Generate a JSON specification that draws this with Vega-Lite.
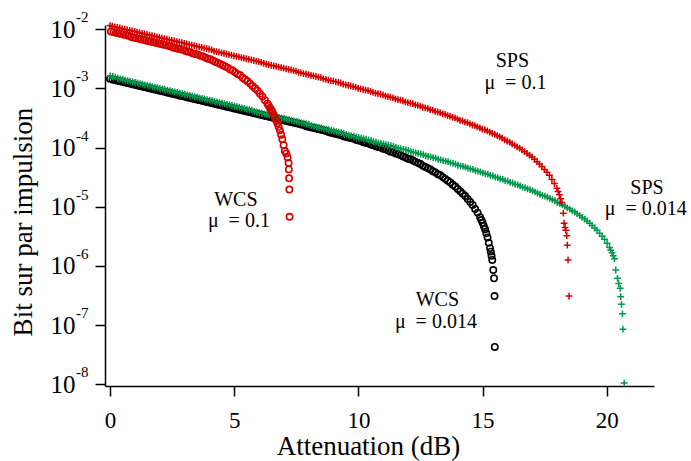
{
"$schema":"https://vega.github.io/schema/vega-lite/v6.json",
"width":549,"height":361,
"autosize":{"type":"none"},
"padding":{"left":105,"top":25,"right":37,"bottom":75},
"background":"white",
"config":{"view":{"stroke":null},"font":"Liberation Serif"},
"datasets":{
"wcs0014":[{"x":0,"y":1.445e-3},{"x":0.1,"y":1.413e-3},{"x":0.2,"y":1.38e-3},{"x":0.3,"y":1.349e-3},{"x":0.4,"y":1.318e-3},{"x":0.5,"y":1.288e-3},{"x":0.6,"y":1.259e-3},{"x":0.7,"y":1.23e-3},{"x":0.8,"y":1.202e-3},{"x":0.9,"y":1.175e-3},{"x":1.0,"y":1.148e-3},{"x":1.1,"y":1.122e-3},{"x":1.2,"y":1.096e-3},{"x":1.3,"y":1.072e-3},{"x":1.4,"y":1.047e-3},{"x":1.5,"y":1.023e-3},{"x":1.6,"y":1.0e-3},{"x":1.7,"y":9.772e-4},{"x":1.8,"y":9.55e-4},{"x":1.9,"y":9.333e-4},{"x":2.0,"y":9.12e-4},{"x":2.1,"y":8.913e-4},{"x":2.2,"y":8.71e-4},{"x":2.3,"y":8.511e-4},{"x":2.4,"y":8.318e-4},{"x":2.5,"y":8.128e-4},{"x":2.6,"y":7.943e-4},{"x":2.7,"y":7.762e-4},{"x":2.8,"y":7.586e-4},{"x":2.9,"y":7.413e-4},{"x":3.0,"y":7.244e-4},{"x":3.1,"y":7.079e-4},{"x":3.2,"y":6.918e-4},{"x":3.3,"y":6.761e-4},{"x":3.4,"y":6.607e-4},{"x":3.5,"y":6.457e-4},{"x":3.6,"y":6.31e-4},{"x":3.7,"y":6.166e-4},{"x":3.8,"y":6.026e-4},{"x":3.9,"y":5.888e-4},{"x":4.0,"y":5.754e-4},{"x":4.1,"y":5.623e-4},{"x":4.2,"y":5.495e-4},{"x":4.3,"y":5.37e-4},{"x":4.4,"y":5.248e-4},{"x":4.5,"y":5.129e-4},{"x":4.6,"y":5.012e-4},{"x":4.7,"y":4.898e-4},{"x":4.8,"y":4.786e-4},{"x":4.9,"y":4.677e-4},{"x":5.0,"y":4.571e-4},{"x":5.1,"y":4.467e-4},{"x":5.2,"y":4.365e-4},{"x":5.3,"y":4.266e-4},{"x":5.4,"y":4.169e-4},{"x":5.5,"y":4.074e-4},{"x":5.6,"y":3.981e-4},{"x":5.7,"y":3.89e-4},{"x":5.8,"y":3.802e-4},{"x":5.9,"y":3.715e-4},{"x":6.0,"y":3.631e-4},{"x":6.1,"y":3.548e-4},{"x":6.2,"y":3.467e-4},{"x":6.3,"y":3.388e-4},{"x":6.4,"y":3.311e-4},{"x":6.5,"y":3.236e-4},{"x":6.6,"y":3.162e-4},{"x":6.7,"y":3.09e-4},{"x":6.8,"y":3.02e-4},{"x":6.9,"y":2.951e-4},{"x":7.0,"y":2.884e-4},{"x":7.1,"y":2.818e-4},{"x":7.2,"y":2.754e-4},{"x":7.3,"y":2.692e-4},{"x":7.4,"y":2.63e-4},{"x":7.5,"y":2.57e-4},{"x":7.6,"y":2.512e-4},{"x":7.7,"y":2.455e-4},{"x":7.8,"y":2.399e-4},{"x":7.9,"y":2.291e-4},{"x":8.0,"y":2.239e-4},{"x":8.1,"y":2.188e-4},{"x":8.2,"y":2.138e-4},{"x":8.3,"y":2.089e-4},{"x":8.4,"y":2.042e-4},{"x":8.5,"y":1.995e-4},{"x":8.6,"y":1.95e-4},{"x":8.7,"y":1.905e-4},{"x":8.8,"y":1.82e-4},{"x":8.9,"y":1.778e-4},{"x":9.0,"y":1.738e-4},{"x":9.1,"y":1.698e-4},{"x":9.2,"y":1.66e-4},{"x":9.3,"y":1.622e-4},{"x":9.4,"y":1.549e-4},{"x":9.5,"y":1.514e-4},{"x":9.6,"y":1.479e-4},{"x":9.7,"y":1.445e-4},{"x":9.8,"y":1.413e-4},{"x":9.9,"y":1.349e-4},{"x":10.0,"y":1.318e-4},{"x":10.1,"y":1.288e-4},{"x":10.2,"y":1.23e-4},{"x":10.3,"y":1.202e-4},{"x":10.4,"y":1.175e-4},{"x":10.5,"y":1.122e-4},{"x":10.6,"y":1.096e-4},{"x":10.7,"y":1.047e-4},{"x":10.8,"y":1.023e-4},{"x":10.9,"y":1.0e-4},{"x":11.0,"y":9.55e-5},{"x":11.1,"y":9.333e-5},{"x":11.2,"y":8.913e-5},{"x":11.3,"y":8.511e-5},{"x":11.4,"y":8.318e-5},{"x":11.5,"y":7.943e-5},{"x":11.6,"y":7.762e-5},{"x":11.7,"y":7.413e-5},{"x":11.8,"y":7.079e-5},{"x":11.9,"y":6.761e-5},{"x":12.0,"y":6.457e-5},{"x":12.1,"y":6.31e-5},{"x":12.2,"y":6.026e-5},{"x":12.3,"y":5.754e-5},{"x":12.4,"y":5.495e-5},{"x":12.5,"y":5.248e-5},{"x":12.6,"y":4.898e-5},{"x":12.7,"y":4.677e-5},{"x":12.8,"y":4.467e-5},{"x":12.9,"y":4.266e-5},{"x":13.0,"y":3.981e-5},{"x":13.1,"y":3.802e-5},{"x":13.2,"y":3.548e-5},{"x":13.3,"y":3.388e-5},{"x":13.4,"y":3.162e-5},{"x":13.5,"y":2.951e-5},{"x":13.6,"y":2.754e-5},{"x":13.7,"y":2.57e-5},{"x":13.8,"y":2.344e-5},{"x":13.9,"y":2.188e-5},{"x":14.0,"y":1.995e-5},{"x":14.1,"y":1.82e-5},{"x":14.2,"y":1.66e-5},{"x":14.3,"y":1.514e-5},{"x":14.4,"y":1.349e-5},{"x":14.5,"y":1.202e-5},{"x":14.6,"y":1.072e-5},{"x":14.7,"y":9.12e-6},{"x":14.8,"y":7.943e-6},{"x":14.9,"y":6.607e-6},{"x":14.95,"y":5.957e-6},{"x":15.0,"y":5.37e-6},{"x":15.05,"y":4.732e-6},{"x":15.1,"y":4.169e-6},{"x":15.15,"y":3.548e-6},{"x":15.2,"y":3.02e-6},{"x":15.25,"y":2.455e-6},{"x":15.3,"y":1.995e-6},{"x":15.33,"y":1.738e-6},{"x":15.36,"y":1.479e-6},{"x":15.39,"y":1.259e-6},{"x":15.43,"y":8.511e-7},{"x":15.46,"y":6.166e-7},{"x":15.48,"y":3.09e-7},{"x":15.49,"y":4.266e-8}],
"sps0014":[{"x":0.01,"y":1.622e-3},{"x":0.11,"y":1.585e-3},{"x":0.21,"y":1.549e-3},{"x":0.31,"y":1.479e-3},{"x":0.41,"y":1.445e-3},{"x":0.51,"y":1.413e-3},{"x":0.61,"y":1.38e-3},{"x":0.71,"y":1.349e-3},{"x":0.81,"y":1.318e-3},{"x":0.91,"y":1.288e-3},{"x":1.01,"y":1.259e-3},{"x":1.11,"y":1.23e-3},{"x":1.21,"y":1.202e-3},{"x":1.31,"y":1.175e-3},{"x":1.41,"y":1.148e-3},{"x":1.51,"y":1.122e-3},{"x":1.61,"y":1.096e-3},{"x":1.71,"y":1.072e-3},{"x":1.81,"y":1.047e-3},{"x":1.91,"y":1.023e-3},{"x":2.01,"y":1.0e-3},{"x":2.11,"y":9.772e-4},{"x":2.21,"y":9.55e-4},{"x":2.31,"y":9.333e-4},{"x":2.41,"y":9.12e-4},{"x":2.51,"y":8.913e-4},{"x":2.61,"y":8.71e-4},{"x":2.71,"y":8.511e-4},{"x":2.81,"y":8.318e-4},{"x":2.91,"y":8.128e-4},{"x":3.01,"y":7.943e-4},{"x":3.11,"y":7.762e-4},{"x":3.21,"y":7.586e-4},{"x":3.31,"y":7.413e-4},{"x":3.41,"y":7.244e-4},{"x":3.51,"y":7.079e-4},{"x":3.61,"y":6.918e-4},{"x":3.71,"y":6.761e-4},{"x":3.81,"y":6.607e-4},{"x":3.91,"y":6.457e-4},{"x":4.01,"y":6.31e-4},{"x":4.11,"y":6.166e-4},{"x":4.21,"y":6.026e-4},{"x":4.31,"y":5.888e-4},{"x":4.41,"y":5.754e-4},{"x":4.51,"y":5.623e-4},{"x":4.61,"y":5.495e-4},{"x":4.71,"y":5.37e-4},{"x":4.81,"y":5.248e-4},{"x":4.91,"y":5.129e-4},{"x":5.01,"y":5.012e-4},{"x":5.11,"y":4.898e-4},{"x":5.21,"y":4.786e-4},{"x":5.31,"y":4.677e-4},{"x":5.41,"y":4.571e-4},{"x":5.51,"y":4.467e-4},{"x":5.61,"y":4.365e-4},{"x":5.71,"y":4.266e-4},{"x":5.81,"y":4.074e-4},{"x":5.91,"y":3.981e-4},{"x":6.01,"y":3.89e-4},{"x":6.11,"y":3.802e-4},{"x":6.21,"y":3.715e-4},{"x":6.31,"y":3.631e-4},{"x":6.41,"y":3.548e-4},{"x":6.51,"y":3.467e-4},{"x":6.61,"y":3.388e-4},{"x":6.71,"y":3.311e-4},{"x":6.81,"y":3.236e-4},{"x":6.91,"y":3.162e-4},{"x":7.01,"y":3.09e-4},{"x":7.11,"y":3.02e-4},{"x":7.21,"y":2.951e-4},{"x":7.31,"y":2.884e-4},{"x":7.41,"y":2.818e-4},{"x":7.51,"y":2.754e-4},{"x":7.61,"y":2.692e-4},{"x":7.71,"y":2.63e-4},{"x":7.81,"y":2.57e-4},{"x":7.91,"y":2.512e-4},{"x":8.01,"y":2.455e-4},{"x":8.11,"y":2.344e-4},{"x":8.21,"y":2.291e-4},{"x":8.31,"y":2.239e-4},{"x":8.41,"y":2.188e-4},{"x":8.51,"y":2.138e-4},{"x":8.61,"y":2.089e-4},{"x":8.71,"y":2.042e-4},{"x":8.81,"y":1.995e-4},{"x":8.91,"y":1.95e-4},{"x":9.01,"y":1.905e-4},{"x":9.11,"y":1.862e-4},{"x":9.21,"y":1.82e-4},{"x":9.31,"y":1.778e-4},{"x":9.41,"y":1.738e-4},{"x":9.51,"y":1.66e-4},{"x":9.61,"y":1.622e-4},{"x":9.71,"y":1.585e-4},{"x":9.81,"y":1.549e-4},{"x":9.91,"y":1.514e-4},{"x":10.01,"y":1.479e-4},{"x":10.11,"y":1.445e-4},{"x":10.21,"y":1.413e-4},{"x":10.31,"y":1.38e-4},{"x":10.41,"y":1.349e-4},{"x":10.51,"y":1.318e-4},{"x":10.61,"y":1.259e-4},{"x":10.71,"y":1.23e-4},{"x":10.81,"y":1.202e-4},{"x":10.91,"y":1.175e-4},{"x":11.01,"y":1.148e-4},{"x":11.11,"y":1.122e-4},{"x":11.21,"y":1.096e-4},{"x":11.31,"y":1.072e-4},{"x":11.41,"y":1.047e-4},{"x":11.51,"y":1.0e-4},{"x":11.61,"y":9.772e-5},{"x":11.71,"y":9.55e-5},{"x":11.81,"y":9.333e-5},{"x":11.91,"y":9.12e-5},{"x":12.01,"y":8.913e-5},{"x":12.11,"y":8.511e-5},{"x":12.21,"y":8.318e-5},{"x":12.31,"y":8.128e-5},{"x":12.41,"y":7.943e-5},{"x":12.51,"y":7.762e-5},{"x":12.61,"y":7.586e-5},{"x":12.71,"y":7.244e-5},{"x":12.81,"y":7.079e-5},{"x":12.91,"y":6.918e-5},{"x":13.01,"y":6.761e-5},{"x":13.11,"y":6.607e-5},{"x":13.21,"y":6.31e-5},{"x":13.31,"y":6.166e-5},{"x":13.41,"y":6.026e-5},{"x":13.51,"y":5.888e-5},{"x":13.61,"y":5.754e-5},{"x":13.71,"y":5.495e-5},{"x":13.81,"y":5.37e-5},{"x":13.91,"y":5.248e-5},{"x":14.01,"y":5.012e-5},{"x":14.11,"y":4.898e-5},{"x":14.21,"y":4.786e-5},{"x":14.31,"y":4.677e-5},{"x":14.41,"y":4.467e-5},{"x":14.51,"y":4.365e-5},{"x":14.61,"y":4.266e-5},{"x":14.71,"y":4.074e-5},{"x":14.81,"y":3.981e-5},{"x":14.91,"y":3.89e-5},{"x":15.01,"y":3.715e-5},{"x":15.11,"y":3.631e-5},{"x":15.21,"y":3.548e-5},{"x":15.31,"y":3.388e-5},{"x":15.41,"y":3.311e-5},{"x":15.51,"y":3.162e-5},{"x":15.61,"y":3.09e-5},{"x":15.71,"y":2.951e-5},{"x":15.81,"y":2.884e-5},{"x":15.91,"y":2.754e-5},{"x":16.01,"y":2.692e-5},{"x":16.11,"y":2.57e-5},{"x":16.21,"y":2.512e-5},{"x":16.31,"y":2.399e-5},{"x":16.41,"y":2.344e-5},{"x":16.51,"y":2.239e-5},{"x":16.61,"y":2.138e-5},{"x":16.71,"y":2.089e-5},{"x":16.81,"y":1.995e-5},{"x":16.91,"y":1.95e-5},{"x":17.01,"y":1.862e-5},{"x":17.11,"y":1.778e-5},{"x":17.21,"y":1.698e-5},{"x":17.31,"y":1.622e-5},{"x":17.41,"y":1.549e-5},{"x":17.51,"y":1.514e-5},{"x":17.61,"y":1.445e-5},{"x":17.71,"y":1.38e-5},{"x":17.81,"y":1.318e-5},{"x":17.91,"y":1.259e-5},{"x":18.01,"y":1.175e-5},{"x":18.11,"y":1.122e-5},{"x":18.21,"y":1.072e-5},{"x":18.31,"y":1.023e-5},{"x":18.41,"y":9.55e-6},{"x":18.51,"y":9.12e-6},{"x":18.61,"y":8.511e-6},{"x":18.71,"y":8.128e-6},{"x":18.81,"y":7.586e-6},{"x":18.91,"y":7.079e-6},{"x":19.01,"y":6.607e-6},{"x":19.11,"y":6.166e-6},{"x":19.21,"y":5.754e-6},{"x":19.31,"y":5.248e-6},{"x":19.41,"y":4.786e-6},{"x":19.51,"y":4.365e-6},{"x":19.61,"y":3.981e-6},{"x":19.71,"y":3.548e-6},{"x":19.81,"y":3.162e-6},{"x":19.91,"y":2.818e-6},{"x":20.01,"y":2.399e-6},{"x":20.11,"y":2.042e-6},{"x":20.16,"y":1.841e-6},{"x":20.21,"y":1.66e-6},{"x":20.26,"y":1.479e-6},{"x":20.31,"y":1.318e-6},{"x":20.36,"y":8.511e-7},{"x":20.43,"y":6.166e-7},{"x":20.48,"y":5.012e-7},{"x":20.54,"y":4.169e-7},{"x":20.56,"y":3.02e-7},{"x":20.59,"y":2.239e-7},{"x":20.63,"y":1.549e-7},{"x":20.65,"y":8.511e-8},{"x":20.7,"y":1.047e-8}],
"sps01":[{"x":0,"y":1.148e-2},{"x":0.09,"y":1.122e-2},{"x":0.19,"y":1.096e-2},{"x":0.29,"y":1.072e-2},{"x":0.39,"y":1.047e-2},{"x":0.49,"y":1.023e-2},{"x":0.59,"y":1.0e-2},{"x":0.69,"y":9.772e-3},{"x":0.79,"y":9.55e-3},{"x":0.89,"y":9.333e-3},{"x":0.99,"y":9.12e-3},{"x":1.09,"y":8.913e-3},{"x":1.19,"y":8.71e-3},{"x":1.29,"y":8.511e-3},{"x":1.39,"y":8.318e-3},{"x":1.49,"y":8.128e-3},{"x":1.59,"y":7.943e-3},{"x":1.69,"y":7.762e-3},{"x":1.79,"y":7.586e-3},{"x":1.89,"y":7.413e-3},{"x":1.99,"y":7.244e-3},{"x":2.09,"y":7.079e-3},{"x":2.19,"y":6.918e-3},{"x":2.29,"y":6.761e-3},{"x":2.39,"y":6.607e-3},{"x":2.49,"y":6.457e-3},{"x":2.59,"y":6.31e-3},{"x":2.69,"y":6.166e-3},{"x":2.79,"y":6.026e-3},{"x":2.89,"y":5.888e-3},{"x":2.99,"y":5.754e-3},{"x":3.09,"y":5.623e-3},{"x":3.19,"y":5.495e-3},{"x":3.29,"y":5.37e-3},{"x":3.39,"y":5.248e-3},{"x":3.49,"y":5.129e-3},{"x":3.59,"y":5.012e-3},{"x":3.69,"y":4.898e-3},{"x":3.79,"y":4.786e-3},{"x":3.89,"y":4.677e-3},{"x":3.99,"y":4.571e-3},{"x":4.09,"y":4.467e-3},{"x":4.19,"y":4.266e-3},{"x":4.29,"y":4.169e-3},{"x":4.39,"y":4.074e-3},{"x":4.49,"y":3.981e-3},{"x":4.59,"y":3.89e-3},{"x":4.69,"y":3.802e-3},{"x":4.79,"y":3.715e-3},{"x":4.89,"y":3.631e-3},{"x":4.99,"y":3.548e-3},{"x":5.09,"y":3.467e-3},{"x":5.19,"y":3.388e-3},{"x":5.29,"y":3.311e-3},{"x":5.39,"y":3.236e-3},{"x":5.49,"y":3.162e-3},{"x":5.59,"y":3.09e-3},{"x":5.69,"y":3.02e-3},{"x":5.79,"y":2.951e-3},{"x":5.89,"y":2.884e-3},{"x":5.99,"y":2.818e-3},{"x":6.09,"y":2.754e-3},{"x":6.19,"y":2.63e-3},{"x":6.29,"y":2.57e-3},{"x":6.39,"y":2.512e-3},{"x":6.49,"y":2.455e-3},{"x":6.59,"y":2.399e-3},{"x":6.69,"y":2.344e-3},{"x":6.79,"y":2.291e-3},{"x":6.89,"y":2.239e-3},{"x":6.99,"y":2.188e-3},{"x":7.09,"y":2.138e-3},{"x":7.19,"y":2.089e-3},{"x":7.29,"y":2.042e-3},{"x":7.39,"y":1.995e-3},{"x":7.49,"y":1.95e-3},{"x":7.59,"y":1.862e-3},{"x":7.69,"y":1.82e-3},{"x":7.79,"y":1.778e-3},{"x":7.89,"y":1.738e-3},{"x":7.99,"y":1.698e-3},{"x":8.09,"y":1.66e-3},{"x":8.19,"y":1.622e-3},{"x":8.29,"y":1.585e-3},{"x":8.39,"y":1.549e-3},{"x":8.49,"y":1.514e-3},{"x":8.59,"y":1.445e-3},{"x":8.69,"y":1.413e-3},{"x":8.79,"y":1.38e-3},{"x":8.89,"y":1.349e-3},{"x":8.99,"y":1.318e-3},{"x":9.09,"y":1.288e-3},{"x":9.19,"y":1.259e-3},{"x":9.29,"y":1.23e-3},{"x":9.39,"y":1.175e-3},{"x":9.49,"y":1.148e-3},{"x":9.59,"y":1.122e-3},{"x":9.69,"y":1.096e-3},{"x":9.79,"y":1.072e-3},{"x":9.89,"y":1.047e-3},{"x":9.99,"y":1.0e-3},{"x":10.09,"y":9.772e-4},{"x":10.19,"y":9.55e-4},{"x":10.29,"y":9.333e-4},{"x":10.39,"y":9.12e-4},{"x":10.49,"y":8.913e-4},{"x":10.59,"y":8.511e-4},{"x":10.69,"y":8.318e-4},{"x":10.79,"y":8.128e-4},{"x":10.89,"y":7.943e-4},{"x":10.99,"y":7.762e-4},{"x":11.09,"y":7.413e-4},{"x":11.19,"y":7.244e-4},{"x":11.29,"y":7.079e-4},{"x":11.39,"y":6.918e-4},{"x":11.49,"y":6.607e-4},{"x":11.59,"y":6.457e-4},{"x":11.69,"y":6.31e-4},{"x":11.79,"y":6.166e-4},{"x":11.89,"y":5.888e-4},{"x":11.99,"y":5.754e-4},{"x":12.09,"y":5.623e-4},{"x":12.19,"y":5.495e-4},{"x":12.29,"y":5.248e-4},{"x":12.39,"y":5.129e-4},{"x":12.49,"y":5.012e-4},{"x":12.59,"y":4.786e-4},{"x":12.69,"y":4.677e-4},{"x":12.79,"y":4.571e-4},{"x":12.89,"y":4.365e-4},{"x":12.99,"y":4.266e-4},{"x":13.09,"y":4.074e-4},{"x":13.19,"y":3.981e-4},{"x":13.29,"y":3.89e-4},{"x":13.39,"y":3.715e-4},{"x":13.49,"y":3.631e-4},{"x":13.59,"y":3.467e-4},{"x":13.69,"y":3.388e-4},{"x":13.79,"y":3.236e-4},{"x":13.89,"y":3.162e-4},{"x":13.99,"y":3.02e-4},{"x":14.09,"y":2.884e-4},{"x":14.19,"y":2.818e-4},{"x":14.29,"y":2.692e-4},{"x":14.39,"y":2.63e-4},{"x":14.49,"y":2.512e-4},{"x":14.59,"y":2.399e-4},{"x":14.69,"y":2.344e-4},{"x":14.79,"y":2.239e-4},{"x":14.89,"y":2.138e-4},{"x":14.99,"y":2.042e-4},{"x":15.09,"y":1.995e-4},{"x":15.19,"y":1.905e-4},{"x":15.29,"y":1.82e-4},{"x":15.39,"y":1.738e-4},{"x":15.49,"y":1.66e-4},{"x":15.59,"y":1.585e-4},{"x":15.69,"y":1.514e-4},{"x":15.79,"y":1.445e-4},{"x":15.89,"y":1.349e-4},{"x":15.99,"y":1.288e-4},{"x":16.09,"y":1.23e-4},{"x":16.19,"y":1.148e-4},{"x":16.29,"y":1.096e-4},{"x":16.39,"y":1.023e-4},{"x":16.49,"y":9.772e-5},{"x":16.59,"y":9.12e-5},{"x":16.69,"y":8.511e-5},{"x":16.79,"y":7.943e-5},{"x":16.89,"y":7.413e-5},{"x":16.99,"y":6.918e-5},{"x":17.09,"y":6.31e-5},{"x":17.19,"y":5.754e-5},{"x":17.29,"y":5.248e-5},{"x":17.39,"y":4.786e-5},{"x":17.49,"y":4.266e-5},{"x":17.59,"y":3.802e-5},{"x":17.69,"y":3.388e-5},{"x":17.79,"y":2.884e-5},{"x":17.89,"y":2.455e-5},{"x":17.99,"y":2.042e-5},{"x":18.04,"y":1.799e-5},{"x":18.09,"y":1.585e-5},{"x":18.14,"y":1.365e-5},{"x":18.19,"y":1.175e-5},{"x":18.25,"y":7.762e-6},{"x":18.28,"y":5.248e-6},{"x":18.32,"y":4.467e-6},{"x":18.35,"y":3.981e-6},{"x":18.39,"y":3.236e-6},{"x":18.41,"y":2.239e-6},{"x":18.44,"y":1.259e-6},{"x":18.48,"y":3.09e-7}],
"wcs01":[{"x":0.04,"y":9.12e-3},{"x":0.14,"y":8.913e-3},{"x":0.24,"y":8.71e-3},{"x":0.34,"y":8.511e-3},{"x":0.44,"y":8.318e-3},{"x":0.54,"y":8.128e-3},{"x":0.64,"y":7.943e-3},{"x":0.74,"y":7.762e-3},{"x":0.84,"y":7.413e-3},{"x":0.94,"y":7.244e-3},{"x":1.04,"y":7.079e-3},{"x":1.14,"y":6.918e-3},{"x":1.24,"y":6.761e-3},{"x":1.34,"y":6.607e-3},{"x":1.44,"y":6.457e-3},{"x":1.54,"y":6.31e-3},{"x":1.64,"y":6.166e-3},{"x":1.74,"y":6.026e-3},{"x":1.84,"y":5.888e-3},{"x":1.94,"y":5.754e-3},{"x":2.04,"y":5.623e-3},{"x":2.14,"y":5.495e-3},{"x":2.24,"y":5.37e-3},{"x":2.34,"y":5.248e-3},{"x":2.44,"y":5.129e-3},{"x":2.54,"y":4.898e-3},{"x":2.64,"y":4.786e-3},{"x":2.74,"y":4.677e-3},{"x":2.84,"y":4.571e-3},{"x":2.94,"y":4.467e-3},{"x":3.04,"y":4.266e-3},{"x":3.14,"y":4.169e-3},{"x":3.24,"y":4.074e-3},{"x":3.34,"y":3.89e-3},{"x":3.44,"y":3.802e-3},{"x":3.54,"y":3.715e-3},{"x":3.64,"y":3.548e-3},{"x":3.74,"y":3.467e-3},{"x":3.84,"y":3.311e-3},{"x":3.94,"y":3.162e-3},{"x":4.04,"y":3.09e-3},{"x":4.14,"y":2.951e-3},{"x":4.24,"y":2.818e-3},{"x":4.34,"y":2.692e-3},{"x":4.44,"y":2.57e-3},{"x":4.54,"y":2.455e-3},{"x":4.64,"y":2.344e-3},{"x":4.74,"y":2.239e-3},{"x":4.84,"y":2.089e-3},{"x":4.94,"y":1.995e-3},{"x":5.04,"y":1.862e-3},{"x":5.14,"y":1.738e-3},{"x":5.24,"y":1.66e-3},{"x":5.34,"y":1.514e-3},{"x":5.44,"y":1.413e-3},{"x":5.54,"y":1.318e-3},{"x":5.64,"y":1.202e-3},{"x":5.74,"y":1.096e-3},{"x":5.84,"y":1.0e-3},{"x":5.94,"y":9.12e-4},{"x":6.04,"y":8.128e-4},{"x":6.14,"y":7.244e-4},{"x":6.24,"y":6.31e-4},{"x":6.34,"y":5.495e-4},{"x":6.39,"y":5.07e-4},{"x":6.44,"y":4.677e-4},{"x":6.49,"y":4.315e-4},{"x":6.54,"y":3.981e-4},{"x":6.59,"y":3.589e-4},{"x":6.64,"y":3.236e-4},{"x":6.69,"y":2.884e-4},{"x":6.74,"y":2.57e-4},{"x":6.79,"y":2.239e-4},{"x":6.84,"y":1.95e-4},{"x":6.89,"y":1.641e-4},{"x":6.94,"y":1.38e-4},{"x":6.99,"y":1.096e-4},{"x":7.04,"y":8.71e-5},{"x":7.1,"y":7.943e-5},{"x":7.15,"y":6.761e-5},{"x":7.19,"y":5.495e-5},{"x":7.2,"y":4.266e-5},{"x":7.21,"y":3.02e-5},{"x":7.22,"y":1.95e-5},{"x":7.23,"y":6.761e-6}],
"sup":[{"y":1e-2,"s":"-2"},{"y":1e-3,"s":"-3"},{"y":1e-4,"s":"-4"},{"y":1e-5,"s":"-5"},{"y":1e-6,"s":"-6"},{"y":1e-7,"s":"-7"},{"y":1e-8,"s":"-8"}],
"notes":[{"x":16.2,"y":2.26e-3,"t":"SPS"},{"x":16.32,"y":0.97e-3,"t":"μ\u00a0 = 0.1"},{"x":21.62,"y":1.614e-5,"t":"SPS"},{"x":21.57,"y":7.13e-6,"t":"μ\u00a0 = 0.014"},{"x":5.07,"y":1.01e-5,"t":"WCS"},{"x":5.19,"y":4.45e-6,"t":"μ\u00a0 = 0.1"},{"x":13.18,"y":2.07e-7,"t":"WCS"},{"x":13.12,"y":8.9e-8,"t":"μ\u00a0 = 0.014"}]
},
"layer":[
{"data":{"name":"wcs0014"},"mark":{"type":"point","shape":"circle","filled":false,"stroke":"black","strokeWidth":1.6,"size":40,"opacity":1},
"encoding":{
"x":{"field":"x","type":"quantitative","scale":{"domain":[-0.2,21.9],"nice":false,"zero":false},
"axis":{"values":[0,5,10,15,20],"title":"Attenuation (dB)","titleFont":"Liberation Serif","titleFontSize":27,"titleFontWeight":"normal","titleColor":"black","titleX":263,"titleY":68,"titleAlign":"center","titleBaseline":"alphabetic","labelFont":"Liberation Serif","labelFontSize":23,"labelColor":"black","labelPadding":13,"labelFlush":false,"tickSize":10,"tickColor":"black","tickWidth":1.5,"domainColor":"black","domainWidth":1.5,"grid":false}},
"y":{"field":"y","type":"quantitative","scale":{"type":"log","domain":[9.33e-9,1.175e-2],"nice":false},
"axis":{"values":[1e-2,1e-3,1e-4,1e-5,1e-6,1e-7,1e-8],"labelExpr":"'10'","title":"Bit sur par impulsion","titleFont":"Liberation Serif","titleFontSize":27,"titleFontWeight":"normal","titleColor":"black","titleX":-73.5,"titleY":196.5,"titleAngle":270,"titleAlign":"center","titleBaseline":"alphabetic","labelFont":"Liberation Serif","labelFontSize":25,"labelColor":"black","labelPadding":20,"labelFlush":false,"labelBaseline":"middle","tickSize":10,"tickColor":"black","tickWidth":1.5,"domainColor":"black","domainWidth":1.5,"grid":false}}}},
{"data":{"name":"sps0014"},"mark":{"type":"point","shape":"M-1,0H1M0,-1V1","filled":false,"stroke":"#00994c","strokeWidth":1.5,"size":46,"opacity":1},
"encoding":{"x":{"field":"x","type":"quantitative"},"y":{"field":"y","type":"quantitative"}}},
{"data":{"name":"sps01"},"mark":{"type":"point","shape":"M-1,0H1M0,-1V1","filled":false,"stroke":"#d40000","strokeWidth":1.5,"size":46,"opacity":1},
"encoding":{"x":{"field":"x","type":"quantitative"},"y":{"field":"y","type":"quantitative"}}},
{"data":{"name":"wcs01"},"mark":{"type":"point","shape":"circle","filled":false,"stroke":"#d40000","strokeWidth":1.6,"size":40,"opacity":1},
"encoding":{"x":{"field":"x","type":"quantitative"},"y":{"field":"y","type":"quantitative"}}},
{"data":{"name":"sup"},"mark":{"type":"text","font":"Liberation Serif","fontSize":15,"align":"left","baseline":"alphabetic","dx":-29,"dy":-7,"fill":"black"},
"encoding":{"x":{"datum":-0.2,"type":"quantitative"},"y":{"field":"y","type":"quantitative"},"text":{"field":"s","type":"nominal"}}},
{"data":{"name":"notes"},"mark":{"type":"text","font":"Liberation Serif","fontSize":20,"align":"center","baseline":"alphabetic","fill":"black"},
"encoding":{"x":{"field":"x","type":"quantitative"},"y":{"field":"y","type":"quantitative"},"text":{"field":"t","type":"nominal"}}}
]
}
